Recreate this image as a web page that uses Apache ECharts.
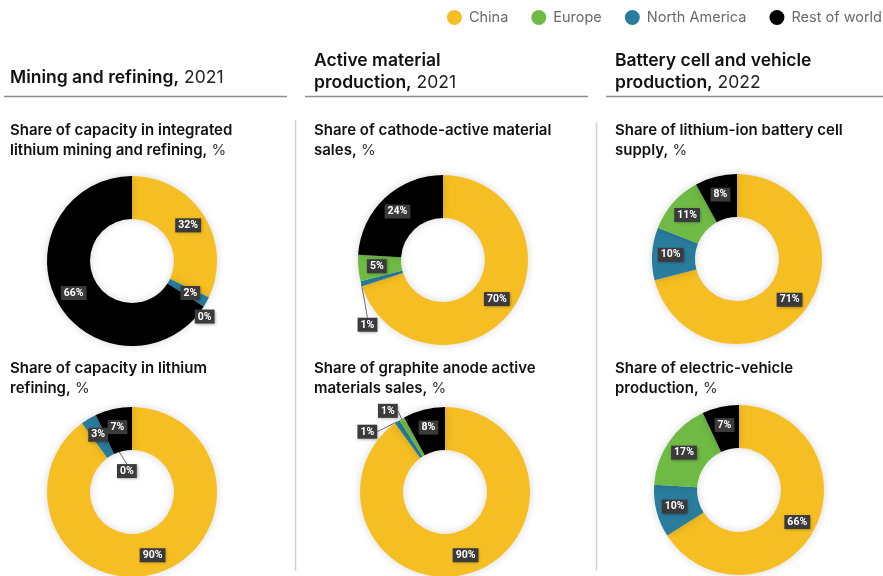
<!DOCTYPE html>
<html>
<head>
<meta charset="utf-8">
<script src="https://cdn.jsdelivr.net/npm/echarts@6/dist/echarts.min.js"></script>
<style>
  html, body { margin: 0; padding: 0; background: #ffffff; }
  #chart { width: 883px; height: 576px; }
</style>
</head>
<body>
<div id="chart"></div>
<script>
// Regions in the clockwise order the slices are drawn (starting at 12 o'clock)
const regions = ['China', 'North America', 'Europe', 'Rest of world'];
// Order used in the legend
const legendOrder = ['China', 'Europe', 'North America', 'Rest of world'];

// Shares, % (China, North America, Europe, Rest of world)
const miningRefiningShare = [32, 2, 0, 66];
const lithiumRefiningShare = [90, 3, 0, 7];
const cathodeSalesShare = [70, 1, 5, 24];
const graphiteAnodeShare = [90, 1, 1, 8];
const batteryCellShare = [71, 10, 11, 8];
const evProductionShare = [66, 10, 17, 7];

// Section and chart headings
const sectionHeadings = [
  ['Mining and refining,', '2021'],
  ['Active material\nproduction,', '2021'],
  ['Battery cell and vehicle\nproduction,', '2022']
];
const chartHeadings = [
  'Share of capacity in integrated\nlithium mining and refining,',
  'Share of capacity in lithium\nrefining,',
  'Share of cathode-active material\nsales,',
  'Share of graphite anode active\nmaterials sales,',
  'Share of lithium-ion battery cell\nsupply,',
  'Share of electric-vehicle\nproduction,'
];

const COLORS = {
  'China': '#F5BE22',
  'Europe': '#6FBA45',
  'North America': '#2A7C9D',
  'Rest of world': '#000000'
};
const FONT = 'Inter, Roboto, "Liberation Sans", sans-serif';
const LABEL_FONT = 'Roboto, "Liberation Sans", sans-serif';

const valueLabel = {
  show: true,
  position: 'inside',
  formatter: '{c}%',
  color: '#ffffff',
  fontFamily: LABEL_FONT,
  fontWeight: 'bold',
  fontSize: 10.5,
  lineHeight: 13,
  padding: [1, 3, 0, 3],
  backgroundColor: '#3b3b3b',
  shadowBlur: 3,
  shadowColor: 'rgba(0,0,0,0.35)',
  shadowOffsetX: 1,
  shadowOffsetY: 1
};

// Small slices get their label moved out of the ring, joined by a thin leader line
function donut(values, center, moved) {
  return {
    type: 'pie',
    radius: [42, 85],
    center: center,
    startAngle: 90,
    clockwise: true,
    avoidLabelOverlap: false,
    silent: true,
    itemStyle: { borderWidth: 0, shadowBlur: 8, shadowColor: 'rgba(0,0,0,0.16)' },
    label: valueLabel,
    labelLine: { show: true, length: 0, length2: 0, lineStyle: { color: '#707070', width: 1 } },
    emphasis: { disabled: true },
    data: regions.map(function (name, i) {
      const item = { name: name, value: values[i], itemStyle: { color: COLORS[name] } };
      const m = moved[i];
      if (m) {
        item.label = { position: 'outside' };
        item.labelLine = { show: m.line, length: 0, length2: 0 };
      }
      return item;
    }),
    labelLayout: function (p) {
      const m = moved[p.dataIndex];
      if (!m) return null;
      return {
        x: p.labelRect.x + m.dx,
        y: p.labelRect.y + m.dy,
        align: 'left',
        verticalAlign: 'top'
      };
    }
  };
}

const headingStyle = {
  b: { fontFamily: FONT, fontSize: 17.5, fontWeight: 600, color: '#111111', lineHeight: 22 },
  r: { fontFamily: FONT, fontSize: 17.5, fontWeight: 'normal', color: '#222222', lineHeight: 22 }
};
const subStyle = {
  b: { fontFamily: FONT, fontSize: 15, fontWeight: 600, color: '#111111', lineHeight: 19.5 },
  r: { fontFamily: FONT, fontSize: 15, fontWeight: 'normal', color: '#333333', lineHeight: 19.5 }
};

function richLines(text, tail) {
  const lines = text.split('\n');
  return lines.map(function (l, i) {
    let s = '{b|' + l + '}';
    if (i === lines.length - 1) s += '{r| ' + tail + '}';
    return s;
  }).join('\n');
}

const colLeft = [10, 314, 615];
const titles = [
  { left: colLeft[0], top: 67, text: richLines(sectionHeadings[0][0], sectionHeadings[0][1]), textStyle: { rich: headingStyle } },
  { left: colLeft[1], top: 50, text: richLines(sectionHeadings[1][0], sectionHeadings[1][1]), textStyle: { rich: headingStyle } },
  { left: colLeft[2], top: 50, text: richLines(sectionHeadings[2][0], sectionHeadings[2][1]), textStyle: { rich: headingStyle } }
];
const subTops = [121, 359];
const headingIndex = [[0, 1], [2, 3], [4, 5]];
for (let c = 0; c < 3; c++) {
  for (let r = 0; r < 2; r++) {
    titles.push({
      left: colLeft[c], top: subTops[r],
      text: richLines(chartHeadings[headingIndex[c][r]], '%'),
      textStyle: { rich: subStyle }
    });
  }
}
titles.forEach(function (t) { t.padding = 0; t.itemGap = 0; });

const rule = function (x1, x2, y) {
  return { type: 'line', shape: { x1: x1, y1: y, x2: x2, y2: y }, style: { stroke: '#8c8c8c', lineWidth: 1.5 }, silent: true };
};
const divider = function (x, y1, y2) {
  return { type: 'line', shape: { x1: x, y1: y1, x2: x, y2: y2 }, style: { stroke: '#d4d4d4', lineWidth: 1.5 }, silent: true };
};

const option = {
  animation: false,
  backgroundColor: '#ffffff',
  title: titles,
  legend: {
    data: legendOrder,
    right: -4,
    top: 5,
    icon: 'circle',
    itemWidth: 15,
    itemHeight: 15,
    itemGap: 23,
    textStyle: { fontFamily: FONT, fontSize: 14.5, color: '#6a6a6a', padding: [0, 0, 0, 2] },
    selectedMode: false
  },
  graphic: [
    rule(4, 287, 96.5),
    rule(305, 588, 96.5),
    rule(606, 883, 96.5),
    divider(295.5, 120, 571),
    divider(596.5, 122, 571)
  ],
  series: [
    donut(miningRefiningShare, [132, 261], { 2: { dx: -14, dy: 10, line: false } }),
    donut(lithiumRefiningShare, [132, 492], { 2: { dx: 46, dy: 56, line: true } }),
    donut(cathodeSalesShare, [443, 260], { 1: { dx: 21, dy: 41, line: true } }),
    donut(graphiteAnodeShare, [445, 492], { 1: { dx: -15, dy: 10, line: true }, 2: { dx: 1, dy: -8, line: true } }),
    donut(batteryCellShare, [737, 259], {}),
    donut(evProductionShare, [739, 490], {})
  ]
};

const chart = echarts.init(document.getElementById('chart'), null, { renderer: 'canvas' });
chart.setOption(option);
</script>
</body>
</html>
